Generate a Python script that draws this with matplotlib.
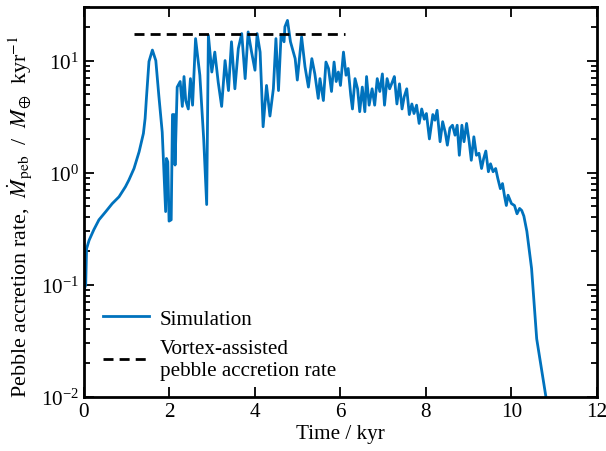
import matplotlib
matplotlib.use("Agg")
import matplotlib.pyplot as plt
from matplotlib.ticker import LogLocator, NullFormatter, MultipleLocator

plt.rcParams['font.family'] = ['Liberation Serif', 'DejaVu Serif']
plt.rcParams['mathtext.fontset'] = 'stix'
plt.rcParams['font.size'] = 15.2

# Simulation: time (kyr) and pebble accretion rate (M_earth / kyr)
time_kyr = [0.0, 0.04, 0.06, 0.12, 0.23, 0.35, 0.51, 0.66, 0.82, 0.97, 1.05, 1.17, 1.29,
            1.39, 1.43, 1.46, 1.52, 1.60,
            1.68, 1.75, 1.83, 1.91, 1.93, 1.96, 1.99, 2.04, 2.07, 2.11, 2.13, 2.18,
            2.25, 2.30, 2.34, 2.38, 2.44, 2.49, 2.54, 2.61, 2.71, 2.80, 2.87, 2.91,
            2.99, 3.06, 3.14, 3.22, 3.30, 3.38, 3.45, 3.53, 3.61, 3.69, 3.77, 3.84,
            3.92, 4.00, 4.05, 4.12, 4.19, 4.27, 4.35, 4.43, 4.49, 4.55, 4.61, 4.68,
            4.70, 4.76, 4.83, 4.94, 4.99, 5.09, 5.17, 5.25, 5.33, 5.40, 5.48, 5.52,
            5.60, 5.66, 5.72, 5.79, 5.85, 5.90, 5.95, 6.00, 6.07, 6.13, 6.18, 6.24,
            6.28, 6.34, 6.40, 6.45, 6.51, 6.57, 6.61, 6.67, 6.74, 6.80, 6.86, 6.92,
            6.98, 7.03, 7.09, 7.15, 7.21, 7.26, 7.32, 7.38, 7.44, 7.49, 7.55, 7.61,
            7.67, 7.72, 7.78, 7.84, 7.90, 7.96, 8.01, 8.08, 8.16, 8.21, 8.26, 8.33,
            8.39, 8.45, 8.50, 8.56, 8.62, 8.68, 8.73, 8.78, 8.84, 8.89, 8.95, 9.01,
            9.06, 9.12, 9.18, 9.24, 9.30, 9.35, 9.40, 9.46, 9.51, 9.57, 9.63, 9.68,
            9.74, 9.79, 9.84, 9.88, 9.92, 10.00, 10.07, 10.13, 10.19, 10.24, 10.29,
            10.36, 10.47, 10.59, 10.71, 10.81, 10.90]
rate = [0.09, 0.10, 0.21, 0.25, 0.31, 0.38, 0.45, 0.53, 0.61, 0.75, 0.86, 1.09, 1.54,
        2.24, 3.05, 4.6, 9.8, 12.4,
        10.0, 4.9, 2.3, 0.45, 1.34, 1.25, 0.37, 0.38, 3.3, 3.3, 1.17, 5.8,
        6.5, 3.9, 7.2, 4.4, 3.7, 6.9, 4.0, 15.7, 7.4, 2.0, 0.52, 16.8,
        7.9, 11.9, 6.4, 3.9, 10.0, 5.4, 14.7, 5.6, 12.8, 17.4, 6.9, 18.0,
        11.9, 8.2, 17.4, 11.9, 2.57, 6.0, 3.2, 5.6, 15.7, 5.4, 16.8, 14.7,
        20.0, 22.8, 14.7, 10.4, 6.7, 16.3, 8.8, 5.8, 10.4, 7.6, 4.6, 6.9,
        4.4, 9.7, 8.5, 5.3, 9.7, 6.5, 7.9, 6.0, 11.9, 7.4, 8.5, 4.9,
        3.7, 6.9, 5.6, 3.5, 5.8, 3.5, 7.2, 4.0, 5.6, 4.0, 6.9, 5.3,
        7.6, 4.0, 6.9, 5.6, 6.4, 7.2, 4.1, 6.2, 3.7, 4.75, 5.6, 3.3,
        4.1, 3.37, 4.0, 2.75, 3.7, 3.0, 3.37, 2.0, 3.3, 2.94, 3.6, 1.89,
        2.85, 2.3, 1.76, 2.5, 2.65, 2.16, 2.65, 1.43, 2.65, 1.89, 2.75, 1.89,
        1.29, 2.09, 1.43, 1.49, 1.09, 1.34, 1.56, 1.02, 1.2, 1.02, 1.09, 0.89,
        0.72, 0.80, 0.61, 0.51, 0.63, 0.53, 0.51, 0.43, 0.48, 0.46, 0.41,
        0.30, 0.14, 0.033, 0.017, 0.0098, 0.005]

# Vortex-assisted pebble accretion rate
vortex_t = [1.17, 6.1]
vortex_rate = [17.4, 17.4]

fig = plt.figure(figsize=(6.06, 4.52), dpi=100)
ax = fig.add_axes([0.1386, 0.1195, 0.8465, 0.8627])

ax.plot(time_kyr, rate, color='#0072bd', lw=2.0, label='Simulation')
ax.plot(vortex_t, vortex_rate, color='black', lw=2.0, ls=(0, (3.6, 2.2)),
        label='Vortex-assisted\npebble accretion rate')

ax.set_yscale('log')
ax.set_xlim(0, 12)
ax.set_ylim(1e-2, 30)
ax.xaxis.set_major_locator(MultipleLocator(2))
ax.yaxis.set_major_locator(LogLocator(base=10, numticks=10))
ax.yaxis.set_minor_locator(LogLocator(base=10, subs=range(2, 10), numticks=10))
ax.yaxis.set_minor_formatter(NullFormatter())

ax.tick_params(which='both', direction='in', top=True, right=True, width=1.3)
ax.tick_params(which='major', length=7)
ax.tick_params(which='minor', length=4)
for s in ax.spines.values():
    s.set_linewidth(2.0)

ax.set_xlabel('Time / kyr', labelpad=2)
ax.set_ylabel(r'Pebble accretion rate,  $\dot{M}_{\mathrm{peb}}$  /  $M_{\oplus}$  kyr$^{-1}$',
              labelpad=4, loc='bottom', fontsize=15.8)

ax.legend(loc='lower left', bbox_to_anchor=(0.0, -0.005), frameon=False,
          handlelength=2.2, handletextpad=0.5, labelspacing=0.5, fontsize=15.2)

fig.savefig('out.png', dpi=100)
